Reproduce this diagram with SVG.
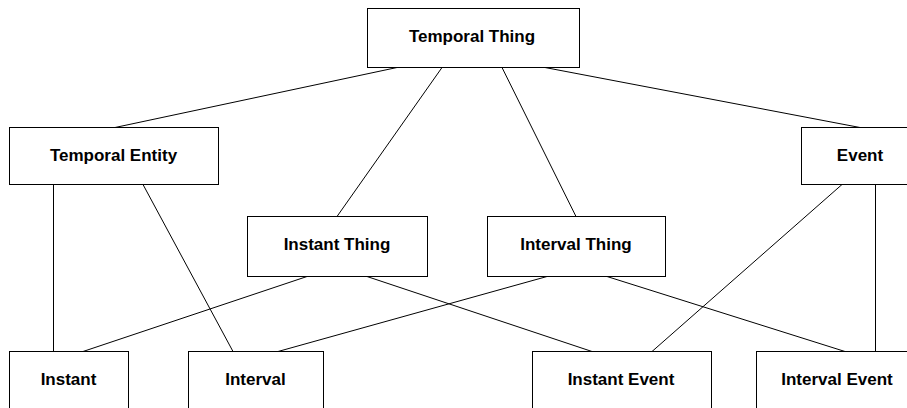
<svg xmlns="http://www.w3.org/2000/svg" width="907" height="408" viewBox="0 0 907 408">
<style>
.box{fill:#fff;stroke:#000;stroke-width:1}
.lbl{font-family:"Liberation Sans",Arial,sans-serif;font-weight:bold;font-size:17px;fill:#000;text-anchor:middle}
.edge{stroke:#000;stroke-width:1;fill:none}
</style>
<rect width="907" height="408" fill="#fff"/>
<g id="connectors">
<line class="edge" x1="397" y1="67.5" x2="115" y2="127.5"/>
<line class="edge" x1="442" y1="67.5" x2="337" y2="216.5"/>
<line class="edge" x1="502" y1="67.5" x2="576" y2="216.5"/>
<line class="edge" x1="545" y1="67.5" x2="860" y2="127.5"/>
<line class="edge" x1="53.5" y1="184.5" x2="53.5" y2="351.5"/>
<line class="edge" x1="143" y1="184.5" x2="233" y2="351.5"/>
<line class="edge" x1="307" y1="276.5" x2="83" y2="351.5"/>
<line class="edge" x1="367" y1="276.5" x2="592" y2="351.5"/>
<line class="edge" x1="547" y1="276.5" x2="278" y2="351.5"/>
<line class="edge" x1="607" y1="276.5" x2="845" y2="351.5"/>
<line class="edge" x1="842" y1="184.5" x2="652" y2="351.5"/>
<line class="edge" x1="875.5" y1="184.5" x2="875.5" y2="351.5"/>
</g>
<g id="temporal-thing"><rect class="box" x="367.5" y="8.5" width="212" height="59"/><text class="lbl" x="472" y="41.5">Temporal Thing</text></g>
<g id="temporal-entity"><rect class="box" x="9.5" y="127.5" width="209" height="57"/><text class="lbl" x="113.5" y="161">Temporal Entity</text></g>
<g id="event"><rect class="box" x="801.5" y="127.5" width="118" height="57"/><text class="lbl" x="860" y="161">Event</text></g>
<g id="instant-thing"><rect class="box" x="247.5" y="216.5" width="180" height="60"/><text class="lbl" x="337" y="250">Instant Thing</text></g>
<g id="interval-thing"><rect class="box" x="487.5" y="216.5" width="178" height="60"/><text class="lbl" x="576" y="250">Interval Thing</text></g>
<g id="instant"><rect class="box" x="9.5" y="351.5" width="119" height="70"/><text class="lbl" x="68.5" y="384.5">Instant</text></g>
<g id="interval"><rect class="box" x="188.5" y="351.5" width="135" height="70"/><text class="lbl" x="255.5" y="384.5">Interval</text></g>
<g id="instant-event"><rect class="box" x="532.5" y="351.5" width="179" height="70"/><text class="lbl" x="621" y="384.5">Instant Event</text></g>
<g id="interval-event"><rect class="box" x="756.5" y="351.5" width="162" height="70"/><text class="lbl" x="837" y="384.5">Interval Event</text></g>
</svg>
